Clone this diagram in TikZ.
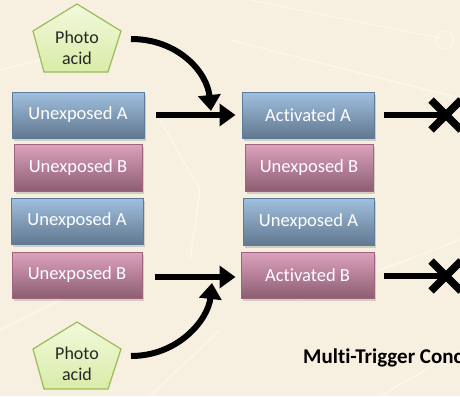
\documentclass[tikz,border=0pt]{standalone}
\usepackage{fontspec}
\setmainfont{Carlito}[Ligatures={TeX,NoCommon}]
\usetikzlibrary{arrows.meta,shadows}
\definecolor{bg}{HTML}{F7F0E1}
\definecolor{bluetop}{HTML}{A0C0E0}
\definecolor{bluebot}{HTML}{62788F}
\definecolor{blueedge}{HTML}{5C7A99}
\definecolor{pinktop}{HTML}{DDA2BC}
\definecolor{pinkbot}{HTML}{8C5E72}
\definecolor{pinkedge}{HTML}{A0637E}
\definecolor{pentop}{HTML}{F2F9DC}
\definecolor{penbot}{HTML}{D8ECA8}
\definecolor{penedge}{HTML}{9BBB59}
\tikzset{
  boxbase/.style={line width=1pt, inner sep=0pt, text=white,
    font=\fontsize{18.5}{20}\selectfont,
    drop shadow={shadow xshift=1.5pt, shadow yshift=-2.5pt, opacity=0.3}},
  boxa/.style={boxbase, draw=blueedge, top color=bluetop, bottom color=bluebot},
  boxb/.style={boxbase, draw=pinkedge, top color=pinktop, bottom color=pinkbot},
  penta/.style={draw=penedge, line width=1.2pt, top color=pentop, bottom color=penbot},
  pentext/.style={align=center, text=black!85, font=\fontsize{18}{21.5}\selectfont, inner sep=0pt},
  bigarrow/.style={line width=6pt, -{Triangle[length=16pt,width=22pt]}},
  xline/.style={line width=6pt},
  xmark/.style={line width=7.5pt},
  bgline/.style={white, opacity=0.4, line width=1.5pt}
}
\begin{document}
\begin{tikzpicture}[x=1pt,y=-1pt]
\useasboundingbox (0,0) rectangle (460,396);
\clip (0,0) rectangle (460,396);
\fill[bg] (0,0) rectangle (460,396);
% faint background pattern
\draw[bgline] (250,0) -- (440,38);
\draw[bgline] (445,40) circle (9);
\draw[bgline] (230,40) -- (460,98);
\draw[bgline] (0,70) -- (120,40);
\draw[bgline] (160,120) -- (200,190) -- (190,260);
\draw[bgline] (300,300) -- (460,240);
\draw[bgline] (0,330) -- (60,300);
\draw[bgline] (150,396) -- (220,330);
\draw[bgline] (380,396) -- (460,350);
% pentagons
\path[penta] (77,4) -- (121,31) -- (108,72) -- (44,72) -- (33,31) -- cycle;
\node[pentext] (pa1) at (77,48) {Photo\\acid};
\path[penta] (77,322) -- (121,349) -- (108,389) -- (44,389) -- (33,349) -- cycle;
\node[pentext] (pa2) at (77,364) {Photo\\acid};
% left column
\node[boxa, minimum width=132pt, minimum height=46pt] (ua1) at (78,115) {Unexposed A};
\node[boxb, minimum width=128pt, minimum height=47pt] (ub1) at (78,167.5) {Unexposed B};
\node[boxa, minimum width=132pt, minimum height=46pt] (ua2) at (77,221) {Unexposed A};
\node[boxb, minimum width=130pt, minimum height=46pt] (ub2) at (77,275) {Unexposed B};
% right column
\node[boxa, minimum width=132pt, minimum height=46pt] (aa) at (308,115) {Activated A};
\node[boxb, minimum width=128pt, minimum height=47pt] (ub3) at (309,167.5) {Unexposed B};
\node[boxa, minimum width=131pt, minimum height=47pt] (ua3) at (308.5,221.5) {Unexposed A};
\node[boxb, minimum width=133pt, minimum height=46pt] (ab) at (307.5,275) {Activated B};
% arrows
\coordinate (s1) at (131,39);
\coordinate (t1) at (211,111);
\coordinate (s2) at (131,356);
\coordinate (t2) at (212,283);
\draw[bigarrow] (s1) .. controls (178,39) and (207,72) .. (t1);
\draw[bigarrow] (s2) .. controls (178,356) and (208,320) .. (t2);
\draw[bigarrow] ([xshift=11pt]ua1.east) -- ([xshift=-6pt]aa.west);
\draw[bigarrow] ([xshift=12pt,yshift=-2pt]ub2.east) -- ([xshift=-5pt,yshift=-2pt]ab.west);
% blocked outputs
\coordinate (x1) at (446,115);
\coordinate (x2) at (446,276);
\draw[xline] ([xshift=9pt]aa.east) -- (x1);
\draw[xline] ([xshift=9pt,yshift=-1pt]ab.east) -- (x2);
\draw[xmark] ([shift={(-15,-15)}]x1) -- ([shift={(15,15)}]x1);
\draw[xmark] ([shift={(-15,15)}]x1) -- ([shift={(15,-15)}]x1);
\draw[xmark] ([shift={(-15,-15)}]x2) -- ([shift={(15,15)}]x2);
\draw[xmark] ([shift={(-15,15)}]x2) -- ([shift={(15,-15)}]x2);
% caption (cut off at the right edge, as in the reference)
\node[anchor=base west, inner sep=0pt, font=\bfseries\fontsize{21}{24}\selectfont] (lbl) at (303,363) {Multi-Trigger Concept};
\end{tikzpicture}
\end{document}
